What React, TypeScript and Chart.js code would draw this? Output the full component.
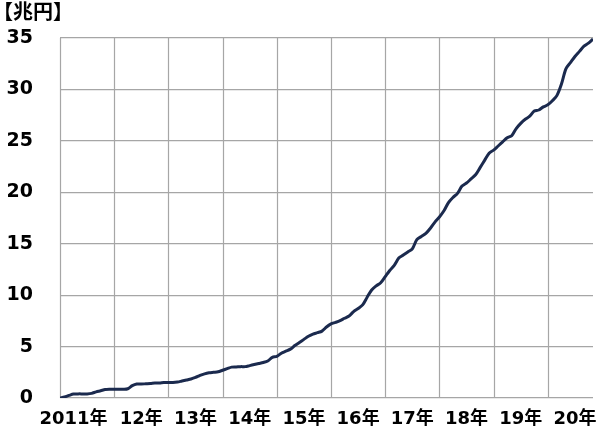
import { Chart, registerables } from "chart.js";
import { useEffect, useRef } from "react";

Chart.register(...registerables);

// monthly balance, Jan 2011 .. Nov 2020 (兆円)
const values2011 = [0, 0.1, 0.25, 0.38, 0.4, 0.4, 0.4, 0.45, 0.6, 0.7, 0.82, 0.85];
const values2012 = [0.85, 0.85, 0.85, 0.9, 1.2, 1.36, 1.36, 1.38, 1.4, 1.45, 1.45, 1.5];
const values2013 = [1.5, 1.5, 1.55, 1.65, 1.75, 1.85, 2.0, 2.2, 2.35, 2.45, 2.5, 2.55];
const values2014 = [2.7, 2.85, 3.0, 3.02, 3.05, 3.05, 3.15, 3.25, 3.35, 3.45, 3.6, 3.95];
const values2015 = [4.05, 4.35, 4.55, 4.75, 5.1, 5.4, 5.7, 6.0, 6.22, 6.35, 6.5, 6.9];
const values2016 = [7.2, 7.35, 7.52, 7.75, 7.97, 8.4, 8.7, 9.05, 9.8, 10.5, 10.9, 11.2];
const values2017 = [11.8, 12.4, 12.9, 13.6, 13.9, 14.2, 14.5, 15.4, 15.7, 16.0, 16.5, 17.1];
const values2018 = [17.6, 18.2, 19.0, 19.5, 19.9, 20.6, 20.9, 21.3, 21.7, 22.4, 23.1, 23.8];
const values2019 = [24.1, 24.5, 24.9, 25.3, 25.5, 26.2, 26.7, 27.1, 27.4, 27.9, 28.0, 28.3];
const values2020 = [28.5, 28.9, 29.4, 30.5, 32.0, 32.6, 33.2, 33.7, 34.2, 34.5, 34.9];

const yearLabels = ["2011年", "12年", "13年", "14年", "15年", "16年", "17年", "18年", "19年", "20年"];
const unitLabel = "【兆円】";

const values = [
  ...values2011, ...values2012, ...values2013, ...values2014, ...values2015,
  ...values2016, ...values2017, ...values2018, ...values2019, ...values2020,
];

const FONT = "'DejaVu Sans', 'Noto Sans CJK JP', sans-serif";
const GRID = "#a6a6a6";

// vertical lines at every January, drawn through the x scale
const yearGrid = {
  id: "yearGrid",
  beforeDatasetsDraw(chart: any) {
    const { ctx, chartArea, scales } = chart;
    ctx.save();
    ctx.strokeStyle = GRID;
    ctx.lineWidth = 1.2;
    yearLabels.forEach((_, i) => {
      const px = Math.round(scales.x.getPixelForValue(i * 12)) + 0.5;
      ctx.beginPath();
      ctx.moveTo(px, chartArea.top);
      ctx.lineTo(px, chartArea.bottom);
      ctx.stroke();
    });
    ctx.restore();
  },
};

const App = () => {
  const chartRef = useRef<HTMLCanvasElement | null>(null);
  const chartInstance = useRef<Chart | null>(null);

  useEffect(() => {
    if (!chartRef.current) return;
    if (chartInstance.current) chartInstance.current.destroy();

    const lastIndex = values.length - 1;

    // year label under the middle of each year; the long first one sits a bit left
    const yearLabelAt = (m: number) => {
      if (m === 3) return yearLabels[0];
      if (m > 6 && m % 12 === 6) return yearLabels[(m - 6) / 12];
      return "";
    };

    chartInstance.current = new Chart(chartRef.current, {
      type: "line",
      data: {
        datasets: [
          {
            data: values.map((v, i) => ({ x: i, y: v })),
            borderColor: "#1b2a4e",
            borderWidth: 3,
            pointRadius: 0,
            tension: 0.3,
            fill: false,
          },
        ],
      },
      plugins: [yearGrid],
      options: {
        animation: false,
        responsive: true,
        maintainAspectRatio: false,
        layout: { padding: { left: -7, right: 7, top: 0, bottom: 0 } },
        plugins: {
          legend: { display: false },
          tooltip: { enabled: false },
          title: {
            display: true,
            text: unitLabel,
            align: "start",
            color: "#000",
            font: { family: FONT, size: 20, weight: "bold" },
            padding: { top: 2, bottom: 12 },
          },
        },
        scales: {
          x: {
            type: "linear",
            min: 0,
            max: lastIndex,
            afterFit: (s: any) => {
              s.height = 33;
              s.paddingLeft = 0;
              s.paddingRight = 0;
            },
            grid: { display: false, drawTicks: false },
            border: { display: false },
            ticks: {
              stepSize: 1,
              maxTicksLimit: 200,
              autoSkip: false,
              maxRotation: 0,
              padding: 11,
              color: "#000",
              font: { family: FONT, size: 18, weight: "bold" },
              callback: (value: any) => yearLabelAt(Number(value)),
            },
          },
          y: {
            min: 0,
            max: 35,
            afterFit: (s: any) => {
              s.width = 67;
              s.paddingTop = 0;
              s.paddingBottom = 0;
            },
            grid: { drawTicks: false, color: GRID, lineWidth: 1.2 },
            border: { display: false },
            ticks: {
              stepSize: 5,
              padding: 27,
              color: "#000",
              font: { family: FONT, size: 19, weight: "bold" },
            },
          },
        },
      },
    });

    return () => {
      if (chartInstance.current) {
        chartInstance.current.destroy();
        chartInstance.current = null;
      }
    };
  }, []);

  return (
    <div
      style={{
        position: "fixed",
        left: 0,
        top: 0,
        width: "600px",
        height: "431px",
        background: "#fff",
      }}
    >
      <canvas ref={chartRef}></canvas>
    </div>
  );
};

export default App;
